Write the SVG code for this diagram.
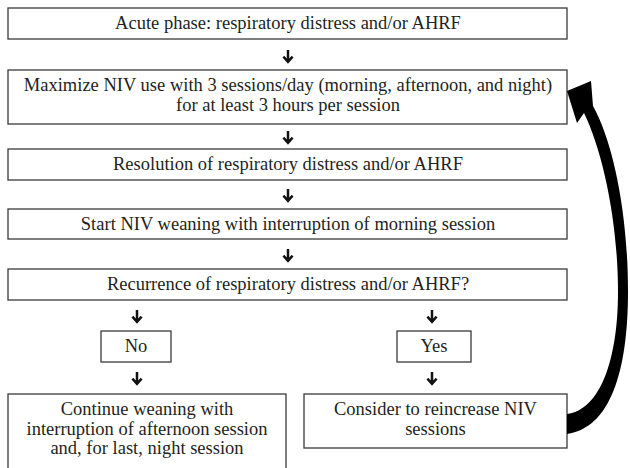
<svg xmlns="http://www.w3.org/2000/svg" width="630" height="468" viewBox="0 0 630 468">
<defs>
<style>
.box{fill:#fff;stroke:#3a3a3a;stroke-width:1.3}
.t{font-family:"Liberation Serif","Times New Roman",serif;font-size:18.5px;fill:#231f20;text-anchor:middle}
.arr{fill:none;stroke:#111;stroke-width:2.5;stroke-linecap:butt;stroke-linejoin:miter}
</style>
<g id="dn"><path d="M0 0 V11.5 M-4.6 6.6 L0 11.8 L4.6 6.6"/></g>
</defs>
<rect width="630" height="468" fill="#fff"/>
<g id="n1"><rect class="box" x="8" y="8" width="559" height="31"/><text class="t" x="288" y="29">Acute phase: respiratory distress and/or AHRF</text></g>
<g id="n2"><rect class="box" x="8" y="70" width="559" height="54"/><text class="t" x="288" y="91">Maximize NIV use with 3 sessions/day (morning, afternoon, and night)</text><text class="t" x="288" y="111">for at least 3 hours per session</text></g>
<g id="n3"><rect class="box" x="8" y="149" width="559" height="31"/><text class="t" x="288" y="170">Resolution of respiratory distress and/or AHRF</text></g>
<g id="n4"><rect class="box" x="8" y="209" width="559" height="30"/><text class="t" x="288" y="230">Start NIV weaning with interruption of morning session</text></g>
<g id="n5"><rect class="box" x="8" y="269" width="559" height="31"/><text class="t" x="288" y="290">Recurrence of respiratory distress and/or AHRF?</text></g>
<g id="no"><rect class="box" x="101" y="331" width="70" height="31"/><text class="t" x="136" y="352">No</text></g>
<g id="yes"><rect class="box" x="397" y="331" width="74" height="31"/><text class="t" x="434" y="352">Yes</text></g>
<g id="cont"><rect class="box" x="8" y="394" width="278" height="80"/><text class="t" x="147" y="415">Continue weaning with</text><text class="t" x="147" y="434.5">interruption of afternoon session</text><text class="t" x="147" y="454">and, for last, night session</text></g>
<g id="cons"><rect class="box" x="304" y="394" width="263" height="54"/><text class="t" x="435.5" y="415">Consider to reincrease NIV</text><text class="t" x="435.5" y="435">sessions</text></g>
<g id="connectors">
<use href="#dn" class="arr" x="288" y="50"/>
<use href="#dn" class="arr" x="288" y="131"/>
<use href="#dn" class="arr" x="288" y="189"/>
<use href="#dn" class="arr" x="288" y="249"/>
<use href="#dn" class="arr" x="137" y="310"/>
<use href="#dn" class="arr" x="432" y="310"/>
<use href="#dn" class="arr" x="137" y="372"/>
<use href="#dn" class="arr" x="432" y="372"/>
<path fill="#000" d="M567 91 L591 81 L593 106 C613 142 628 212 628 292 C628 372 610 428 567 434 L567 414 C600 410 618 360 618 292 C618 222 603 152 584 113 L577 123 Z"/>
</g>
</svg>
